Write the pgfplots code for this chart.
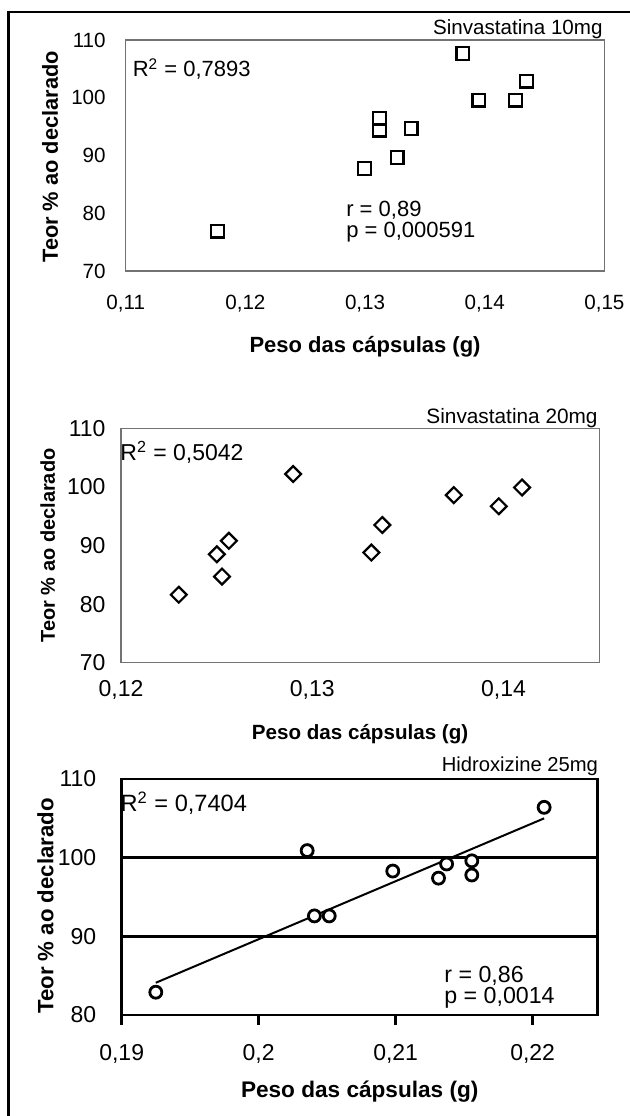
\documentclass[border=0pt]{standalone}
\usepackage{pgfplots}
\pgfplotsset{compat=1.18}
\usepackage{fontspec}
\setmainfont{Liberation Sans}

% 1 px of the reference = 0.5pt
\pgfplotsset{
  panel/.style={
    scale only axis,
    anchor=south west,
    clip=false,
    scaled ticks=false,
    /pgf/number format/assume math mode=true,
    major tick length=0pt,
    tick style={draw=none},
    axis line style={black!55, line width=0.55pt},
  },
}
\tikzset{note/.style={inner sep=0pt, font=\fontsize{11}{13}\selectfont}}

\begin{document}
\begin{tikzpicture}
\useasboundingbox (0,0) rectangle (314.5pt,-558pt);
\draw[line width=1.2pt] (4.25pt,-570pt) -- (4.25pt,-6pt) -- (330pt,-6pt);

% --- Sinvastatina 10mg ---
\begin{axis}[panel,
  at={(62.85pt,-135.5pt)}, width=239.35pt, height=115.5pt,
  xmin=0.11, xmax=0.15, ymin=70, ymax=110,
  xtick={0.11,0.12,0.13,0.14,0.15},
  xticklabels={{0,11},{0,12},{0,13},{0,14},{0,15}},
  ytick={70,80,90,100,110},
  tick label style={font=\fontsize{10.3}{12}\selectfont},
  yticklabel style={xshift=-6.5pt},
  xticklabel style={yshift=-8.5pt},
  xlabel={Peso das cápsulas (g)},
  ylabel={Teor \% ao declarado},
  xlabel style={font=\bfseries\fontsize{11}{13}\selectfont, at={(axis description cs:0.5,-0.327)}, anchor=center},
  ylabel style={font=\bfseries\fontsize{10.9}{13}\selectfont, at={(axis description cs:-0.158,0.494)}, anchor=center},
]
\addplot[only marks, mark=square, mark size=3.2pt,
  mark options={draw=black, fill=white, line width=1.1pt}]
  coordinates {
  (0.11766,76.9) (0.12995,87.8) (0.13122,96.4) (0.13122,94.4) (0.13267,89.7)
  (0.13384,94.7) (0.13818,107.7) (0.13952,99.6) (0.14258,99.6) (0.14348,102.9)
  };
\node[note, anchor=base east, font=\fontsize{10.3}{12}\selectfont]
  at (axis description cs:1,1) [xshift=-0.7pt, yshift=2.8pt] {Sinvastatina 10mg};
\node[note, anchor=base west] at (axis description cs:0.014,0.84) {R\textsuperscript{2} = 0,7893};
\node[note, anchor=base west] at (axis description cs:0.46,0.238) {r = 0,89};
\node[note, anchor=base west] at (axis description cs:0.46,0.147) {p = 0,000591};
\end{axis}

% --- Sinvastatina 20mg ---
\begin{axis}[panel,
  at={(60.5pt,-331.35pt)}, width=239.1pt, height=117.2pt,
  xmin=0.12, xmax=0.145, ymin=70, ymax=110,
  xtick={0.12,0.13,0.14},
  xticklabels={{0,12},{0,13},{0,14}},
  ytick={70,80,90,100,110},
  tick label style={font=\fontsize{11.5}{13}\selectfont},
  yticklabel style={xshift=-4.2pt},
  xticklabel style={yshift=-5.2pt},
  xlabel={Peso das cápsulas (g)},
  ylabel={Teor \% ao declarado},
  xlabel style={font=\bfseries\fontsize{10.3}{12}\selectfont, at={(axis description cs:0.5,-0.306)}, anchor=center},
  ylabel style={font=\bfseries\fontsize{10}{12}\selectfont, at={(axis description cs:-0.153,0.5)}, anchor=center},
]
\addplot[only marks, mark=square, mark size=2.8pt,
  mark options={draw=black, fill=white, line width=1.1pt, rotate=45}]
  coordinates {
  (0.12302,81.6) (0.12501,88.5) (0.12528,84.7) (0.12564,90.8) (0.12900,102.2)
  (0.13309,88.8) (0.13366,93.5) (0.13740,98.6) (0.13975,96.7) (0.14097,99.9)
  };
\node[note, anchor=base east, font=\fontsize{10.4}{12}\selectfont]
  at (axis description cs:1,1) [xshift=-0.6pt, yshift=2.65pt] {Sinvastatina 20mg};
\node[note, anchor=base west, font=\fontsize{11.5}{13}\selectfont] at (axis description cs:-0.002,0.861) {R\textsuperscript{2} = 0,5042};
\end{axis}

% --- Hidroxizine 25mg ---
\begin{axis}[panel,
  at={(60.85pt,-507.5pt)}, width=238pt, height=118pt,
  axis line style={black, line width=1.3pt},
  xmin=0.19, xmax=0.22475, ymin=80, ymax=110,
  xtick={0.19,0.2,0.21,0.22},
  xticklabels={{0,19},{0,2},{0,21},{0,22}},
  ytick={80,90,100,110},
  tick align=outside, xtick pos=lower,
  major tick length=5pt,
  xtick style={draw=black, line width=1.2pt},
  ytick style={draw=none},
  tick label style={font=\fontsize{11.5}{13}\selectfont},
  yticklabel style={xshift=-4.2pt},
  xticklabel style={yshift=-6pt},
  xlabel={Peso das cápsulas (g)},
  ylabel={Teor \% ao declarado},
  xlabel style={font=\bfseries\fontsize{11.3}{13}\selectfont, at={(axis description cs:0.5,-0.324)}, anchor=center},
  ylabel style={font=\bfseries\fontsize{11.1}{13}\selectfont, at={(axis description cs:-0.16,0.462)}, anchor=center},
]
\addplot[black, line width=1.5pt] coordinates {(0.19,100) (0.22475,100)};
\addplot[black, line width=1.5pt] coordinates {(0.19,90) (0.22475,90)};
\addplot[black, line width=1pt] coordinates {(0.19249,84.1) (0.22084,105.0)};
\addplot[only marks, mark=*, mark size=3pt,
  mark options={draw=black, fill=white, line width=1.4pt}]
  coordinates {
  (0.19249,82.9) (0.20354,100.9) (0.20407,92.6) (0.20515,92.6) (0.20979,98.3)
  (0.21313,97.4) (0.21372,99.2) (0.21556,99.6) (0.21556,97.8) (0.22084,106.4)
  };
\node[note, anchor=base east, font=\fontsize{10.1}{12}\selectfont]
  at (axis description cs:1,1) [xshift=0.3pt, yshift=4pt] {Hidroxizine 25mg};
\node[note, anchor=base west, font=\fontsize{11.8}{13}\selectfont] at (axis description cs:-0.003,0.861) {R\textsuperscript{2} = 0,7404};
\node[note, anchor=base west, font=\fontsize{11.6}{13}\selectfont] at (axis description cs:0.677,0.137) {r = 0,86};
\node[note, anchor=base west, font=\fontsize{11.6}{13}\selectfont] at (axis description cs:0.677,0.047) {p = 0,0014};
\end{axis}
\end{tikzpicture}
\end{document}
